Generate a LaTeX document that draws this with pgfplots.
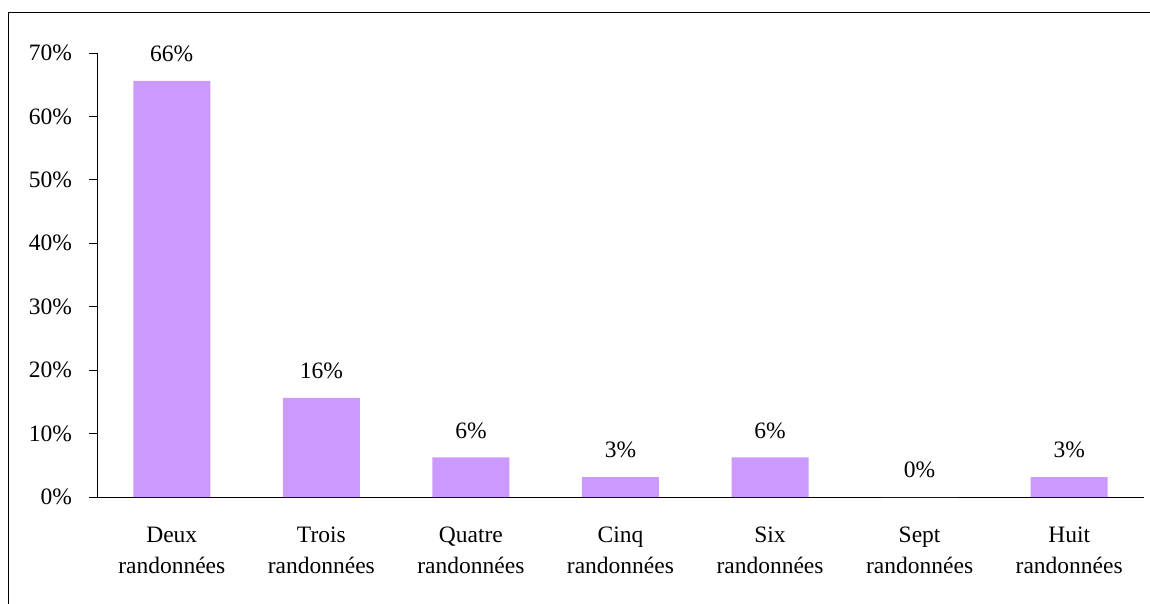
\documentclass[border=0pt]{standalone}
\usepackage{pgfplots}
\pgfplotsset{compat=1.18}
\usepackage{fontspec}
\setmainfont{Liberation Serif}
\definecolor{barc}{HTML}{CC99FF}
\begin{document}
\fontsize{23.5}{31}\selectfont
\begin{tikzpicture}[x=1pt,y=1pt]
\clip (0,0) rectangle (1150,603);
\draw[line width=1.5pt] (8.5,-5) -- (8.5,590.5) -- (1160,590.5);
\begin{axis}[
  at={(97pt,106pt)}, anchor=south west,
  scale only axis, width=1047pt, height=444pt,
  xmin=-0.5, xmax=6.5, ymin=0, ymax=70,
  axis x line*=bottom, axis y line*=left,
  axis line style={line width=1pt, black, -},
  tick align=outside,
  major tick length=8pt, minor tick length=8pt,
  every tick/.style={black, line width=1pt},
  ytick={0,10,...,70},
  yticklabel={\pgfmathprintnumber{\tick}\%},
  /pgf/number format/assume math mode=true,
  y tick label style={font=\fontsize{23.5}{28}\selectfont, xshift=-9pt},
  xtick={0,...,6},
  xticklabels={{Deux\\randonnées},{Trois\\randonnées},{Quatre\\randonnées},{Cinq\\randonnées},{Six\\randonnées},{Sept\\randonnées},{Huit\\randonnées}},
  x tick label style={align=center, font=\fontsize{23.5}{31}\selectfont, yshift=-14pt},
  xtick style={draw=none},
  minor xtick={-0.5,0.5,...,6.5},
  ybar, bar width=77pt,
  nodes near coords={\pgfmathprintnumber[fixed,precision=0]{\pgfplotspointmeta}\%},
  nodes near coords style={font=\fontsize{23.5}{28}\selectfont, black, yshift=11pt},
]
\addplot[fill=barc, draw=none] coordinates {(0,65.625) (1,15.625) (2,6.25) (3,3.125) (4,6.25) (5,0) (6,3.125)};
\end{axis}
\end{tikzpicture}
\end{document}
